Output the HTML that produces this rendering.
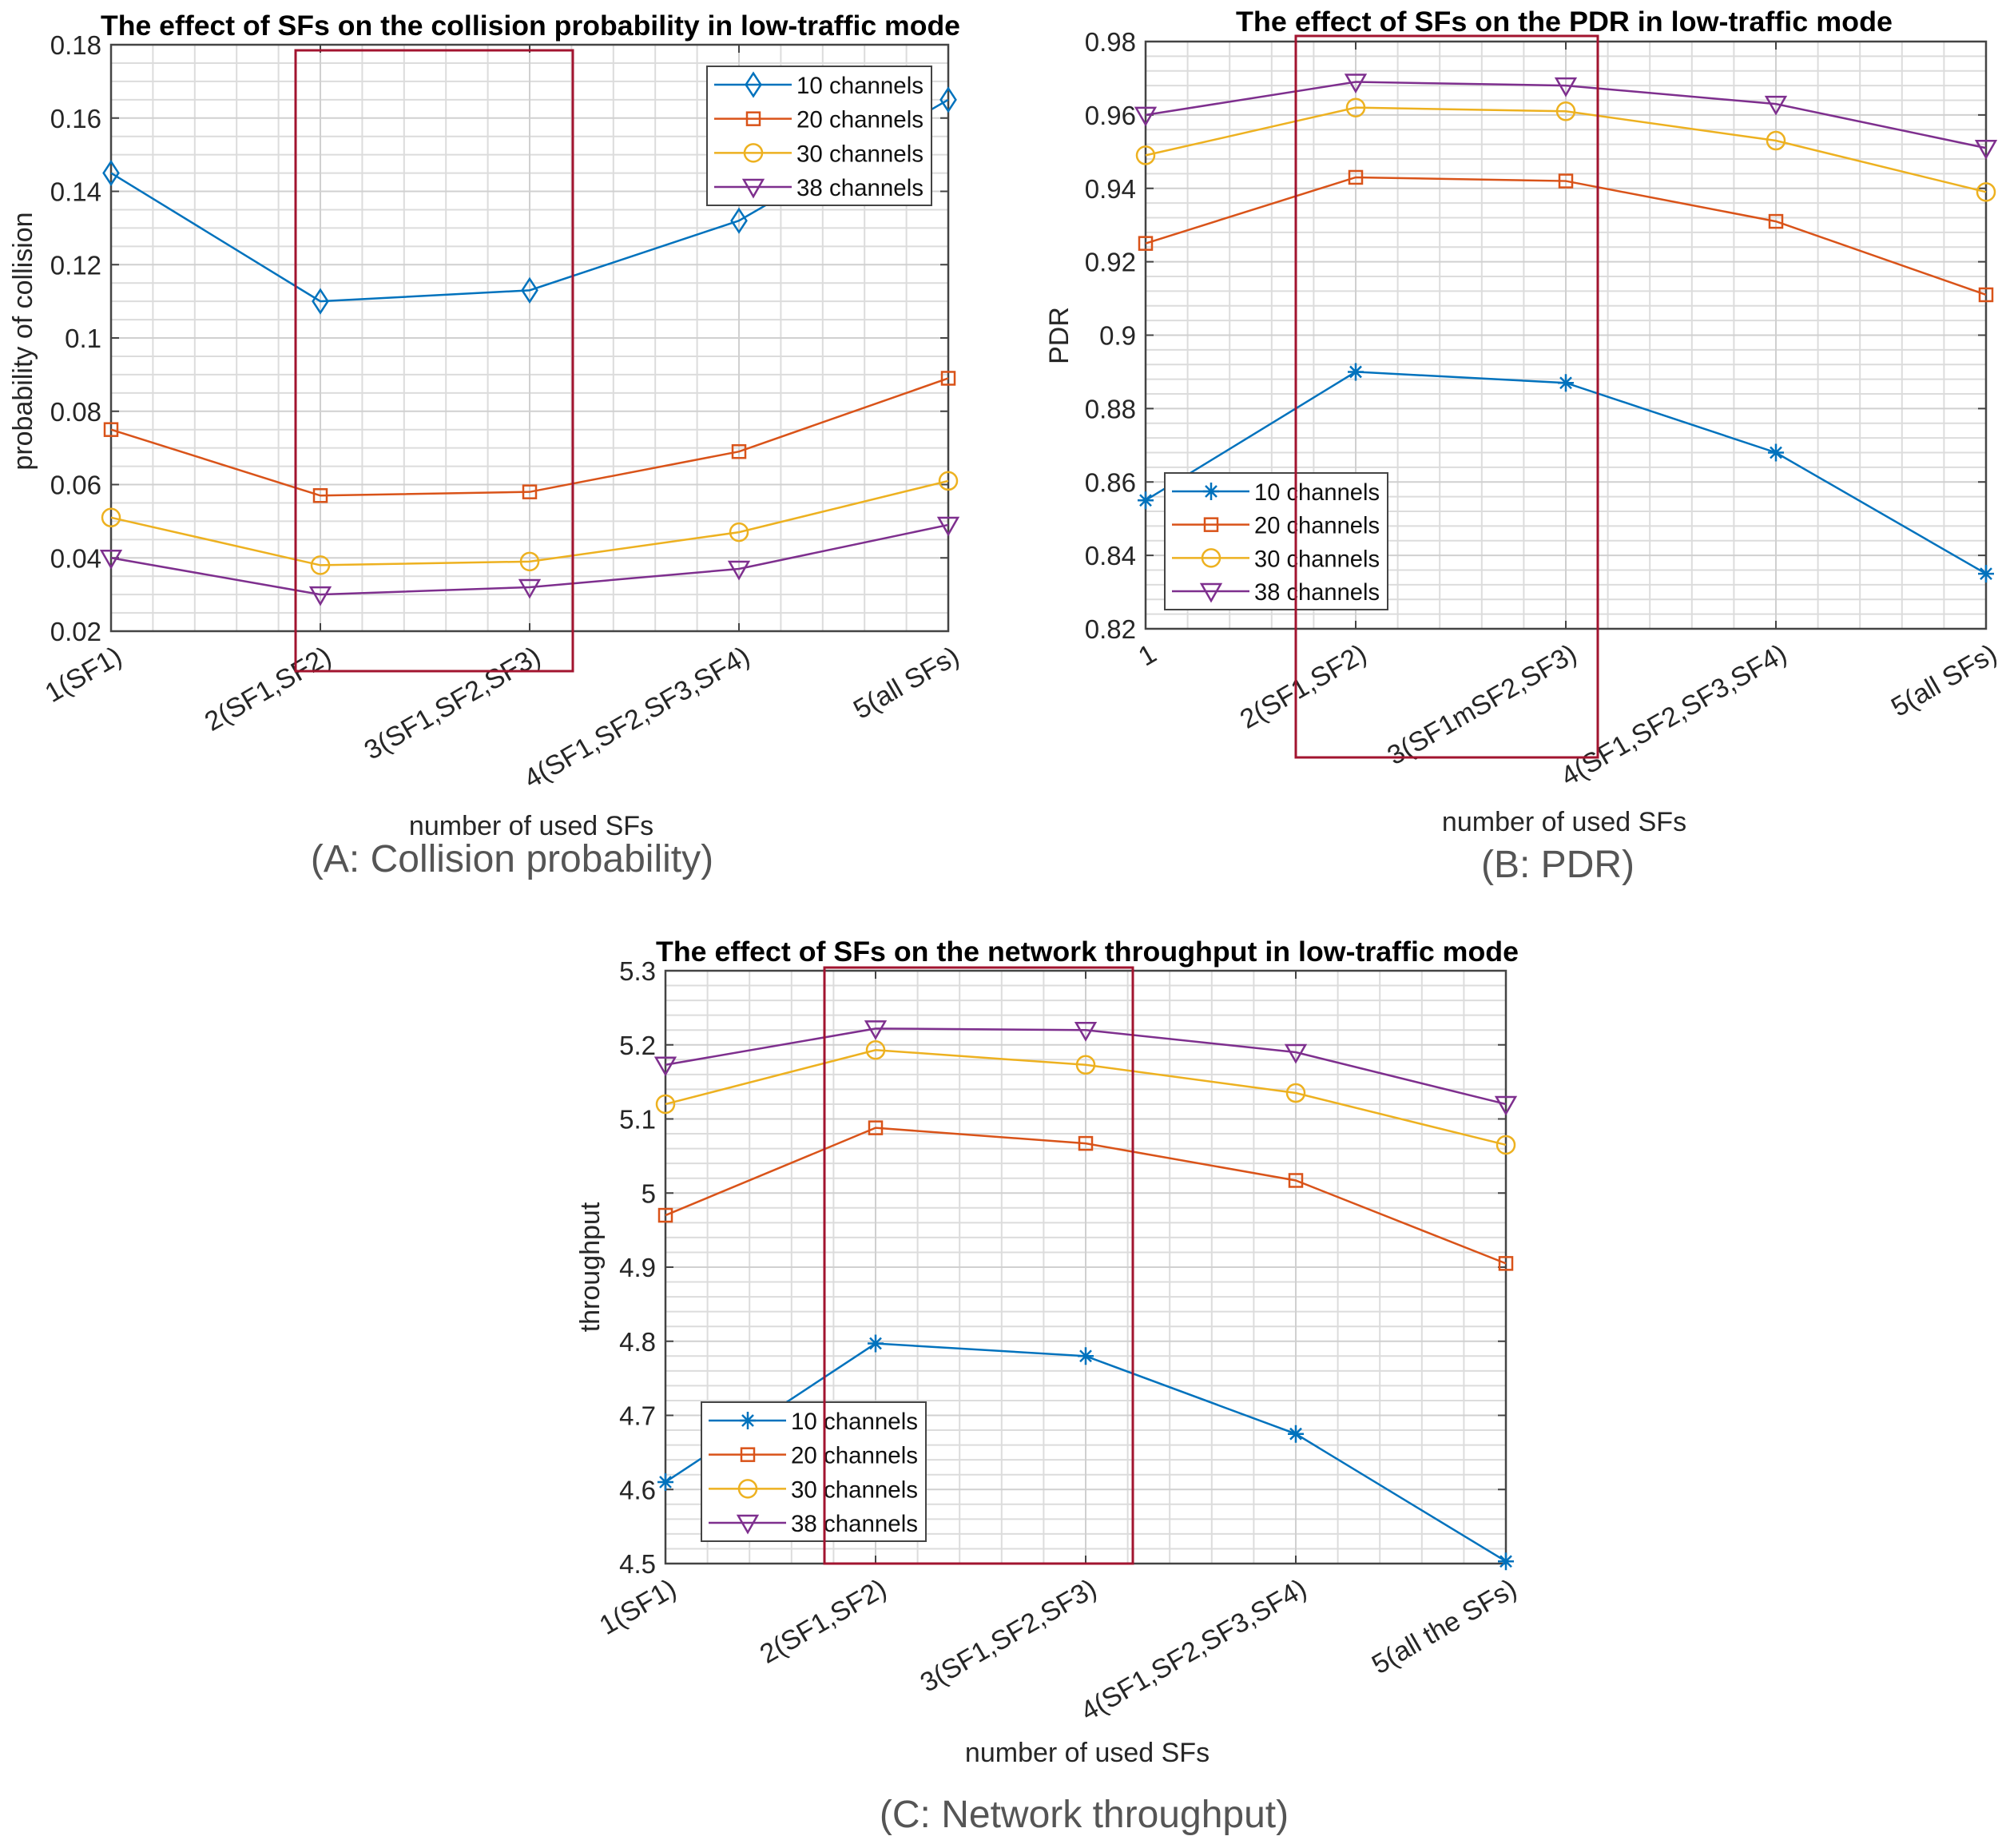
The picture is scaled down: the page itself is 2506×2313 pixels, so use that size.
<!DOCTYPE html>
<html><head><meta charset="utf-8">
<style>
html,body{margin:0;padding:0;background:#fff;}
svg{display:block;font-family:"Liberation Sans",Arial,sans-serif;}
</style></head>
<body>
<svg id="root" width="2506" height="2313" viewBox="0 0 2506 2313" xmlns="http://www.w3.org/2000/svg"></svg>
<script>
const seriesNames = ["10 channels","20 channels","30 channels","38 channels"];
const colors = ["#0072BD","#D95319","#EDB120","#7E2F8E"];

const catsA = ["1(SF1)","2(SF1,SF2)","3(SF1,SF2,SF3)","4(SF1,SF2,SF3,SF4)","5(all SFs)"];
const a10 = [0.145,0.110,0.113,0.132,0.165];
const a20 = [0.075,0.057,0.058,0.069,0.089];
const a30 = [0.051,0.038,0.039,0.047,0.061];
const a38 = [0.040,0.030,0.032,0.037,0.049];
const ticksA = ["0.02","0.04","0.06","0.08","0.1","0.12","0.14","0.16","0.18"];

const catsB = ["1","2(SF1,SF2)","3(SF1mSF2,SF3)","4(SF1,SF2,SF3,SF4)","5(all SFs)"];
const b10 = [0.855,0.890,0.887,0.868,0.835];
const b20 = [0.925,0.943,0.942,0.931,0.911];
const b30 = [0.949,0.962,0.961,0.953,0.939];
const b38 = [0.960,0.969,0.968,0.963,0.951];
const ticksB = ["0.82","0.84","0.86","0.88","0.9","0.92","0.94","0.96","0.98"];

const catsC = ["1(SF1)","2(SF1,SF2)","3(SF1,SF2,SF3)","4(SF1,SF2,SF3,SF4)","5(all the SFs)"];
const c10 = [4.61,4.797,4.78,4.675,4.503];
const c20 = [4.97,5.088,5.067,5.017,4.905];
const c30 = [5.12,5.193,5.173,5.135,5.065];
const c38 = [5.173,5.222,5.22,5.19,5.12];
const ticksC = ["4.5","4.6","4.7","4.8","4.9","5","5.1","5.2","5.3"];

const NS="http://www.w3.org/2000/svg";
const root=document.getElementById('root');
function mk(tag,attrs,parent){const e=document.createElementNS(NS,tag);for(const k in attrs)e.setAttribute(k,attrs[k]);(parent||root).appendChild(e);return e;}

function marker(g,type,x,y,c){
  const s=11;let e;
  if(type==='diamond'){e=mk('polygon',{points:`${x},${y-s*1.3} ${x+s*0.85},${y} ${x},${y+s*1.3} ${x-s*0.85},${y}`,fill:'none',stroke:c,'stroke-width':2.5},g);}
  else if(type==='square'){e=mk('rect',{x:x-8,y:y-8,width:16,height:16,fill:'none',stroke:c,'stroke-width':2.5},g);}
  else if(type==='circle'){e=mk('circle',{cx:x,cy:y,r:11,fill:'none',stroke:c,'stroke-width':2.5},g);}
  else if(type==='tri'){e=mk('polygon',{points:`${x-12},${y-9} ${x+12},${y-9} ${x},${y+12}`,fill:'none',stroke:c,'stroke-width':2.5},g);}
  else if(type==='star'){e=mk('path',{d:`M${x-10},${y}H${x+10}M${x},${y-11}V${y+11}M${x-7},${y-7}L${x+7},${y+7}M${x-7},${y+7}L${x+7},${y-7}`,stroke:c,'stroke-width':2.5,fill:'none'},g);}
  
  
}

function chart(cfg){
  const g=mk('g',{});
  
  
  const {L,R,T,B,ymin,ymax,minorY}=cfg;
  const xs=i=>L+(R-L)*i/(cfg.cats.length-1);
  const ys=v=>B-(v-ymin)/(ymax-ymin)*(B-T);
  const nT=cfg.ticks.length;
  for(let i=0;i<cfg.cats.length-1;i++)for(let k=1;k<5;k++){
    const x=L+(R-L)*(i+k/5)/(cfg.cats.length-1);
    mk('line',{x1:x,x2:x,y1:T,y2:B,stroke:'#dcdcdc','stroke-width':2},g);
  }
  for(let i=0;i<nT-1;i++)for(let k=1;k<minorY;k++){
    const y=B-(B-T)*(i+k/minorY)/(nT-1);
    mk('line',{x1:L,x2:R,y1:y,y2:y,stroke:'#dcdcdc','stroke-width':2},g);
  }
  cfg.cats.forEach((c,i)=>{const x=xs(i);mk('line',{x1:x,x2:x,y1:T,y2:B,stroke:'#d0d0d0','stroke-width':2},g);});
  cfg.ticks.forEach((t,i)=>{const y=B-(B-T)*i/(nT-1);mk('line',{x1:L,x2:R,y1:y,y2:y,stroke:'#d0d0d0','stroke-width':2},g);
    mk('line',{x1:L,x2:L+10,y1:y,y2:y,stroke:'#444','stroke-width':2},g);mk('line',{x1:R-10,x2:R,y1:y,y2:y,stroke:'#444','stroke-width':2},g);
    const tl=mk('text',{x:L-12,y:y+12,'text-anchor':'end','font-size':33,fill:'#262626'},g);tl.textContent=t;
    
    
  });
  cfg.cats.forEach((c,i)=>{const x=xs(i);
    mk('line',{x1:x,x2:x,y1:B-10,y2:B,stroke:'#444','stroke-width':2},g);mk('line',{x1:x,x2:x,y1:T,y2:T+10,stroke:'#444','stroke-width':2},g);
    const tl=mk('text',{x:0,y:0,'text-anchor':'end','font-size':34,fill:'#262626',transform:`translate(${x+16},${B+38}) rotate(-30)`},g);tl.textContent=c;
    
    
  });
  mk('rect',{x:L,y:T,width:R-L,height:B-T,fill:'none',stroke:'#444','stroke-width':2.5},g);
  cfg.series.forEach((s,si)=>{
    const pts=s.map((v,i)=>`${xs(i)},${ys(v)}`).join(' ');
    const pl=mk('polyline',{points:pts,fill:'none',stroke:colors[si],'stroke-width':2.5},g);
    
    
    const mt=si===0?cfg.m0:['diamond','square','circle','tri'][si];
    s.forEach((v,i)=>marker(g,mt,xs(i),ys(v),colors[si]));
  });
  const lg=mk('g',{},g);
  
  
  const [lx,ly,lw,lh]=cfg.leg;
  mk('rect',{x:lx,y:ly,width:lw,height:lh,fill:'#fff',stroke:'#444','stroke-width':2},lg);
  seriesNames.forEach((n,si)=>{
    const y=ly+23+si*(lh-46)/3;
    mk('line',{x1:lx+9,x2:lx+106,y1:y,y2:y,stroke:colors[si],'stroke-width':2.5},lg);
    marker(lg,si===0?cfg.m0:['diamond','square','circle','tri'][si],lx+58,y,colors[si]);
    const t=mk('text',{x:lx+112,y:y+11,'font-size':30,fill:'#111',textLength:lw-122,lengthAdjust:'spacingAndGlyphs'},lg);t.textContent=n;
    
    
  });
  const rb=mk('rect',{x:cfg.red[0],y:cfg.red[1],width:cfg.red[2]-cfg.red[0],height:cfg.red[3]-cfg.red[1],fill:'none',stroke:'#A2142F','stroke-width':3},g);
  
  
  const tt=mk('text',{x:cfg.title[1],y:cfg.title[2],'text-anchor':'middle','font-size':35,'font-weight':'bold',fill:'#000',textLength:cfg.title[3],lengthAdjust:'spacingAndGlyphs'},g);tt.textContent=cfg.title[0];
  
  
  const yl=mk('text',{x:0,y:0,'text-anchor':'middle','font-size':34,fill:'#262626',transform:`translate(${cfg.ylab[1]},${cfg.ylab[2]}) rotate(-90)`},g);yl.textContent=cfg.ylab[0];
  
  
  const xl=mk('text',{x:cfg.xlab[0],y:cfg.xlab[1],'text-anchor':'middle','font-size':34,fill:'#262626'},g);xl.textContent='number of used SFs';
  
  
  const cp=mk('text',{x:cfg.cap[1],y:cfg.cap[2],'text-anchor':'middle','font-size':48,fill:'#555'},g);cp.textContent=cfg.cap[0];
  
  
}

chart({name:'chart-a-collision',L:139,R:1187,T:56,B:790,ymin:0.02,ymax:0.18,minorY:4,cats:catsA,ticks:ticksA,series:[a10,a20,a30,a38],m0:'diamond',
  leg:[885,83,281,174],red:[370,63,717,840],title:['The effect of SFs on the collision probability  in low-traffic mode',664,44,1076],
  ylab:['probability of collision',40,427],xlab:[665,1045],cap:['(A: Collision probability)',641,1091]});
chart({name:'chart-b-pdr',L:1434,R:2486,T:52,B:787,ymin:0.82,ymax:0.98,minorY:5,cats:catsB,ticks:ticksB,series:[b10,b20,b30,b38],m0:'star',
  leg:[1458,592,279,171],red:[1622,45,2000,948],title:['The effect of SFs on the PDR  in low-traffic mode',1958,39,822],
  ylab:['PDR',1337,420],xlab:[1958,1040],cap:['(B: PDR)',1950,1098]});
chart({name:'chart-c-throughput',L:833,R:1885,T:1215,B:1957,ymin:4.5,ymax:5.3,minorY:5,cats:catsC,ticks:ticksC,series:[c10,c20,c30,c38],m0:'star',
  leg:[878,1755,281,174],red:[1032,1211,1418,1957],title:['The effect of SFs on the network throughput  in low-traffic mode',1361,1203,1080],
  ylab:['throughput',750,1586],xlab:[1361,2205],cap:['(C: Network throughput)',1357,2287]});
</script>
</body></html>
